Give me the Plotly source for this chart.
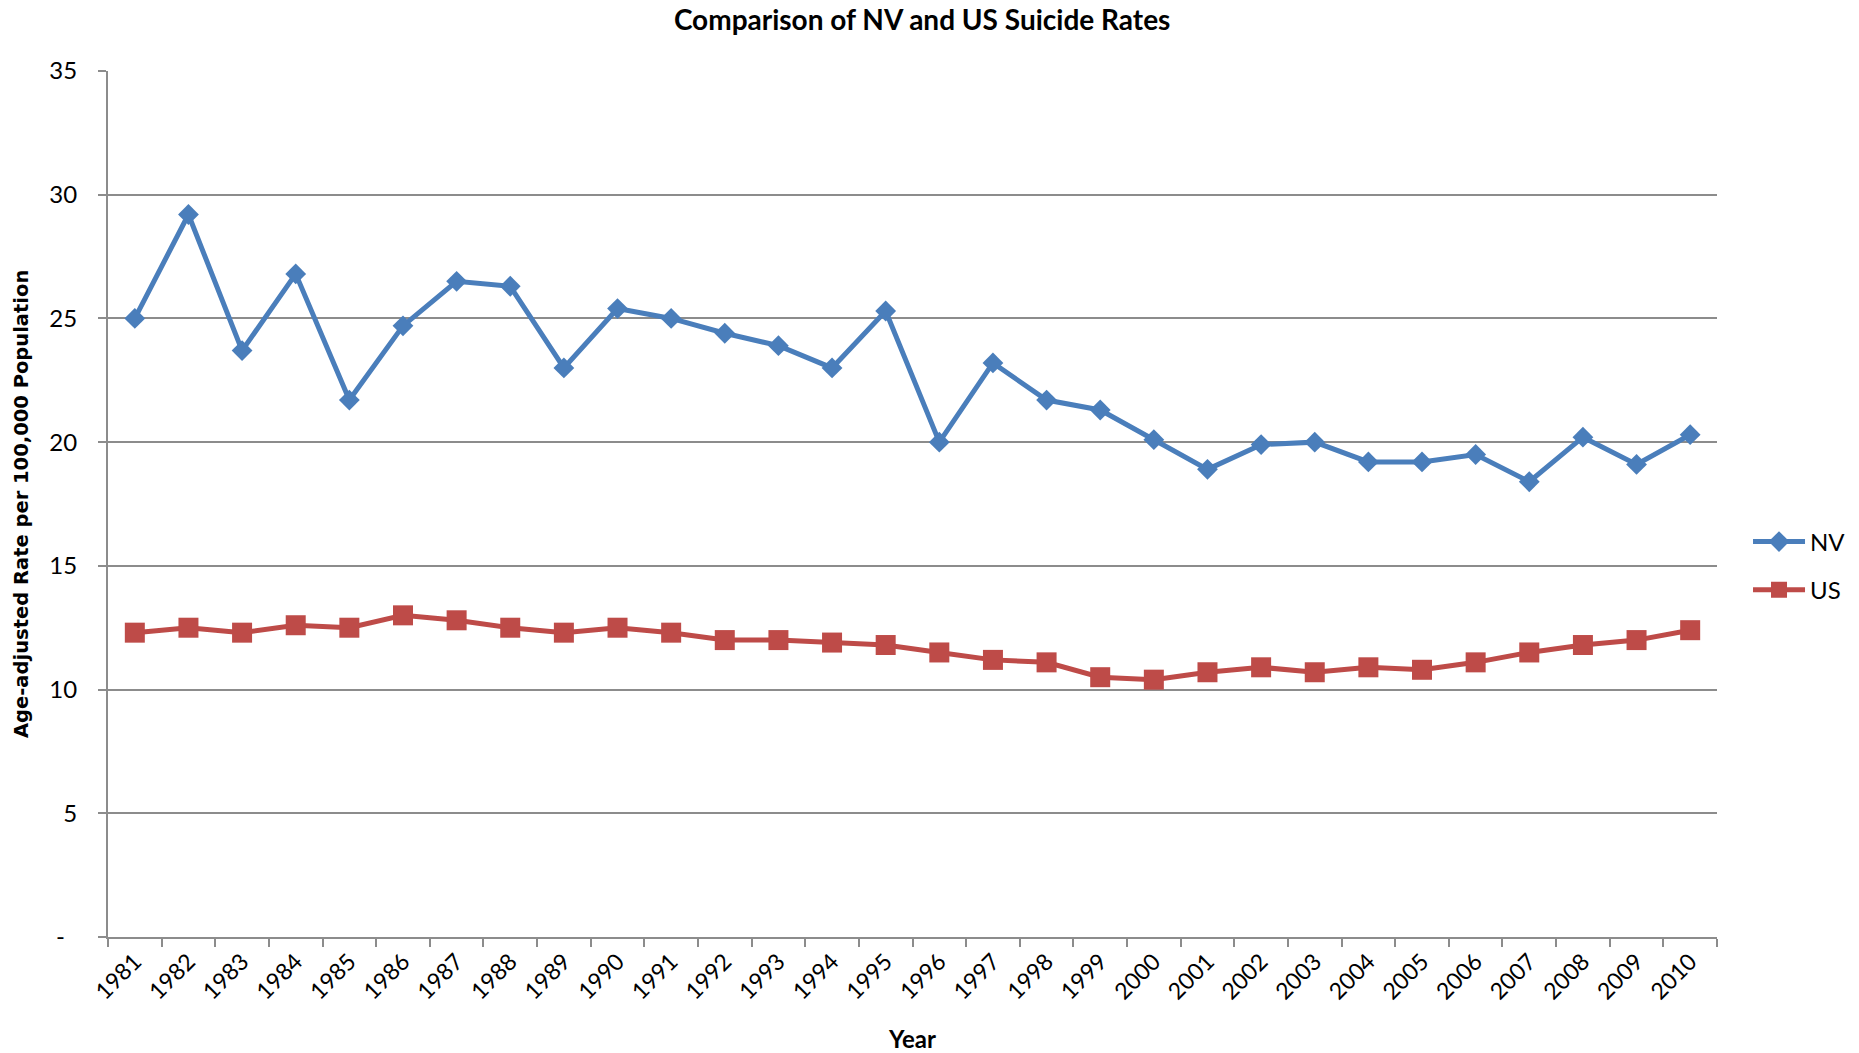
import plotly.graph_objects as go

years = [str(y) for y in range(1981, 2011)]
nv = [25.0, 29.2, 23.7, 26.8, 21.7, 24.7, 26.5, 26.3, 23.0, 25.4,
      25.0, 24.4, 23.9, 23.0, 25.3, 20.0, 23.2, 21.7, 21.3, 20.1,
      18.9, 19.9, 20.0, 19.2, 19.2, 19.5, 18.4, 20.2, 19.1, 20.3]
us = [12.3, 12.5, 12.3, 12.6, 12.5, 13.0, 12.8, 12.5, 12.3, 12.5,
      12.3, 12.0, 12.0, 11.9, 11.8, 11.5, 11.2, 11.1, 10.5, 10.4,
      10.7, 10.9, 10.7, 10.9, 10.8, 11.1, 11.5, 11.8, 12.0, 12.4]
y_tickvals = [0, 5, 10, 15, 20, 25, 30, 35]
y_ticktext = ["-  ", "5", "10", "15", "20", "25", "30", "35"]

NV_COLOR = "#4A7EBB"
US_COLOR = "#BE4B48"
GRID = "#8C8C8C"
FONT = "Lato"

W, H = 1859, 1053

fig = go.Figure()
fig.add_trace(go.Scatter(
    x=years, y=nv, name="NV", mode="lines+markers", legendgroup="nv",
    line=dict(color=NV_COLOR, width=5),
    marker=dict(symbol="diamond", size=16, color=NV_COLOR),
))
fig.add_trace(go.Scatter(
    x=years, y=us, name="US", mode="lines+markers", legendgroup="us",
    line=dict(color=US_COLOR, width=5),
    marker=dict(symbol="square", size=20, color=US_COLOR),
))

fig.update_layout(
    width=W, height=H,
    margin=dict(l=108, r=142, t=71, b=116, autoexpand=False),
    paper_bgcolor="white", plot_bgcolor="white",
    font=dict(family=FONT, color="black", size=23),
    title=dict(
        text="<b>Comparison of NV and US Suicide Rates</b>",
        font=dict(family=FONT, size=28, color="black"),
        x=0.506, xref="paper", xanchor="center",
        y=1 - 20 / H, yref="container", yanchor="middle",
    ),
    legend=dict(
        x=0.9403, xref="container", xanchor="left",
        y=0.4625, yref="container", yanchor="middle",
        font=dict(family=FONT, size=24, color="black"),
        itemwidth=52, tracegroupgap=14, bgcolor="rgba(0,0,0,0)",
    ),
    showlegend=True,
    annotations=[dict(
        text="<b>Age-adjusted Rate per 100,000 Population</b>",
        xref="paper", yref="paper", x=0, y=0.5, xshift=-87,
        xanchor="center", yanchor="middle", textangle=-90, showarrow=False,
        font=dict(family="DejaVu Sans", size=19.5, color="black"),
    )],
)

fig.update_xaxes(
    type="category", range=[-0.5, 29.5], automargin=False,
    showgrid=False, showline=True, linecolor=GRID, linewidth=2,
    ticks="outside", tickson="boundaries", ticklen=8, tickcolor=GRID, tickwidth=1.5,
    tickangle=-45, tickfont=dict(family=FONT, size=23, color="black"),
    title=dict(text="<b>Year</b>", font=dict(family=FONT, size=24, color="black"), standoff=32),
)
fig.update_yaxes(
    range=[0, 35], tickvals=y_tickvals, ticktext=y_ticktext, automargin=False,
    showgrid=True, gridcolor=GRID, gridwidth=2,
    showline=True, linecolor=GRID, linewidth=2,
    ticks="outside", ticklen=8, tickcolor=GRID, tickwidth=1.5,
    ticklabelstandoff=16,
    tickfont=dict(family=FONT, size=24, color="black"),
    zeroline=False,
)

fig.write_html(
    "out.html",
    config={"displayModeBar": False},
    post_script="document.body.style.margin='0';document.body.style.overflow='hidden';",
)
